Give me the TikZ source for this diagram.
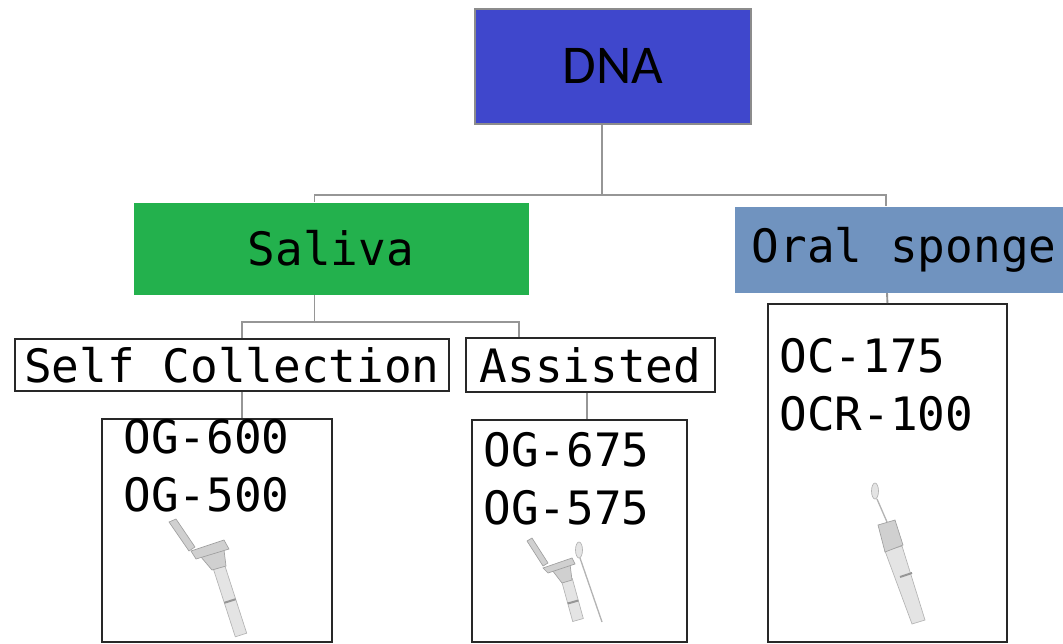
\documentclass[tikz,border=0pt]{standalone}
\usepackage{fontspec}
\setmonofont{DejaVu Sans Mono}
\newfontfamily\dnafont{Carlito}

\tikzset{every picture/.style={line width=0.75pt}}
\tikzset{
	conn/.style={draw={rgb, 255:red, 150; green, 150; blue, 150 }, line width=1.4pt},
	boxfont/.style={font=\ttfamily\fontsize{34.5}{41}\selectfont},
	dnabox/.style={anchor=north west, inner sep=0pt, draw={rgb, 255:red, 140; green, 140; blue, 140 }, line width=1.4pt,
		fill={rgb, 255:red, 63; green, 71; blue, 204 }, minimum width=207pt, minimum height=86.25pt,
		font=\dnafont\fontsize{41}{48}\selectfont},
	salivabox/.style={boxfont, anchor=north west, inner sep=0pt, fill={rgb, 255:red, 35; green, 177; blue, 77 },
		minimum width=296.25pt, minimum height=69pt},
	spongebox/.style={boxfont, anchor=north west, inner ysep=0pt, inner xsep=13pt,
		fill={rgb, 255:red, 112; green, 147; blue, 191 }, minimum height=64.5pt},
	kindbox/.style={boxfont, anchor=north west, inner sep=0pt, draw={rgb, 255:red, 40; green, 40; blue, 40 }, line width=1.4pt},
	leafbox/.style={anchor=north west, inner sep=0pt, draw={rgb, 255:red, 40; green, 40; blue, 40 }, line width=1.4pt},
	leaftext/.style={boxfont, anchor=west, inner sep=0pt},
	tubebody/.style={draw={rgb, 255:red, 180; green, 180; blue, 180 }, fill={rgb, 255:red, 228; green, 228; blue, 228 }, line width=0.5pt},
	tubecap/.style={draw={rgb, 255:red, 160; green, 160; blue, 160 }, fill={rgb, 255:red, 208; green, 208; blue, 208 }, line width=0.5pt},
	tubering/.style={draw={rgb, 255:red, 150; green, 150; blue, 150 }, line width=1.5pt}}

\begin{document}
\begin{tikzpicture}[x=0.75pt,y=0.75pt,yscale=-1,xscale=1]
	\useasboundingbox (0,0) rectangle (1063,643);

	%Shape: Rectangle [id:dna]
	\draw (474,8) node [dnabox] (dna) {DNA};
	%Shape: Rectangle [id:saliva]
	\draw (133,202) node [salivabox] (saliva) {Saliva\hspace{6pt}};
	%Shape: Rectangle [id:sponge]
	\draw (734,206) node [spongebox] (sponge) {Oral sponge};
	%Shape: Rectangle [id:selfcol]
	\draw (14,338) node [kindbox, minimum width=325.5pt, minimum height=39pt] (selfcol) {Self Collection};
	%Shape: Rectangle [id:assisted]
	\draw (465,337) node [kindbox, minimum width=186.75pt, minimum height=40.5pt] (assisted) {Assisted};
	%Shape: Rectangle [id:ogself]
	\draw (101,418) node [leafbox, minimum width=172.5pt, minimum height=167.25pt] (ogself) {};
	%Shape: Rectangle [id:ogassist]
	\draw (471,419) node [leafbox, minimum width=161.25pt, minimum height=166.5pt] (ogassist) {};
	%Shape: Rectangle [id:ocbox]
	\draw (767,303) node [leafbox, minimum width=179.25pt, minimum height=253.5pt] (ocbox) {};

	% Text Node
	\draw (123,437) node [leaftext] (og600) {OG-600};
	% Text Node
	\draw (123,495) node [leaftext] (og500) {OG-500};
	% Text Node
	\draw (483,450) node [leaftext] (og675) {OG-675};
	% Text Node
	\draw (483,508) node [leaftext] (og575) {OG-575};
	% Text Node
	\draw (779,356) node [leaftext] (oc175) {OC-175};
	% Text Node
	\draw (779,414) node [leaftext] (ocr100) {OCR-100};

	%Connectors
	\draw [conn] ([xshift=-8.25pt]dna.south) -- ++(0,70) -| ([xshift=-12.4pt]saliva.north);
	\draw [conn] ([xshift=-8.25pt]dna.south) -- ++(0,70) -| ([xshift=114pt]sponge.north west);
	\draw [conn] ([xshift=-12.4pt]saliva.south) -- ++(0,27) -| ([xshift=7.5pt]selfcol.north);
	\draw [conn] ([xshift=-12.4pt]saliva.south) -- ++(0,27) -| ([xshift=-53.6pt]assisted.north);
	\draw [conn] ([xshift=7.5pt]selfcol.south) -- ([xshift=7.5pt]selfcol.south |- ogself.north);
	\draw [conn] ([xshift=-2.6pt]assisted.south) -- ([xshift=-2.6pt]assisted.south |- ogassist.north);
	\draw [conn] ([xshift=114.75pt]sponge.south west) -- (ocbox.north);

	%Shape: Tube OG-600
	\draw [tubecap] (169,522) -- (176,519) -- (195,547) -- (189,551) -- cycle ;
	\draw [tubebody] (213.3,568.8) -- (224.7,565.2) -- (246.7,633.2) -- (235.3,636.8) -- cycle ;
	\draw [tubering] (224.3,602.8) -- (235.7,599.2) ;
	\draw [tubecap] (201,557) -- (224,550) -- (226,566) -- (212,570) -- cycle ;
	\draw [tubecap] (191,551) -- (224,540) -- (229,549) -- (196,559) -- cycle ;

	%Shape: Tube OG-675
	\draw [tubecap] (527,541) -- (532,538) -- (548,563) -- (543,566) -- cycle ;
	\draw [tubebody] (561.7,581.5) -- (572.3,578.5) -- (583.3,618.5) -- (572.7,621.5) -- cycle ;
	\draw [tubering] (567.7,603.5) -- (578.3,600.5) ;
	\draw [tubecap] (552,570) -- (570,564) -- (572,580) -- (562,583) -- cycle ;
	\draw [tubecap] (543,568) -- (572,558) -- (575,564) -- (548,573) -- cycle ;
	\draw [tubebody, line width=1pt] (580,558) -- (602,622) ;
	\draw [tubebody] (579,550) ellipse (3.5 and 8) ;

	%Shape: Tube OC-175
	\draw [tubebody] (885,551) -- (902,546) -- (925,620) -- (912,624) -- cycle ;
	\draw [tubering] (900,577) -- (912,573) ;
	\draw [tubecap] (878,525) -- (895,520) -- (903,545) -- (885,552) -- cycle ;
	\draw [tubebody, line width=1pt] (877,499) -- (887,522) ;
	\draw [tubebody] (875,491) ellipse (3.5 and 8) ;

\end{tikzpicture}
\end{document}
